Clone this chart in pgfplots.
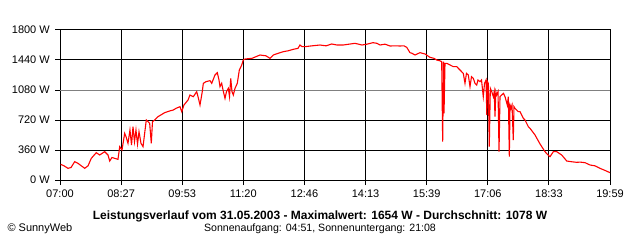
\documentclass[border=0pt]{standalone}
\usepackage{fontspec}
\setmainfont{Liberation Sans}
\usepackage{pgfplots}
\pgfplotsset{compat=1.18}
\usepackage{pgfplotstable}

% minutes after 07:00, power in W
\pgfplotstableread{
t W
1.0 188
5.7 170
11.3 140
15.6 150
20.8 220
25.5 200
35.0 140
39.7 170
44.3 260
51.4 328
56.2 300
63.3 340
68.0 300
70.4 228
73.6 270
77.5 260
82.1 248
84.6 400
87.8 360
91.6 560
93.5 520
96.3 440
99.1 600
101.3 420
103.4 640
105.5 460
107.6 600
109.8 430
111.9 580
114.7 440
117.6 400
122.2 720
124.6 700
127.0 680
129.3 440
131.0 700
134.1 720
138.8 760
148.3 808
155.8 830
160.5 840
164.3 860
170.0 880
172.4 820
175.6 900
181.3 960
184.1 1020
188.8 1000
193.6 1060
195.5 1000
198.3 900
201.5 1060
203.0 1160
206.8 1180
212.5 1192
214.9 1160
219.5 1260
222.8 1288
225.2 1200
226.6 1120
229.0 1160
230.9 1080
233.7 980
235.8 1060
238.4 1100
240.1 1000
241.8 1220
243.6 1060
245.5 1020
247.9 1100
251.1 1160
254.0 1320
257.4 1380
259.6 1440
262.0 1452
271.9 1460
283.3 1500
291.8 1490
297.4 1460
302.1 1500
308.8 1520
316.3 1540
322.9 1550
330.4 1568
337.1 1580
339.9 1620
342.8 1600
347.0 1600
356.9 1610
368.3 1620
376.8 1610
384.8 1632
392.3 1620
401.3 1620
409.3 1630
417.8 1640
427.7 1620
434.8 1630
443.4 1648
449.0 1640
453.2 1620
460.3 1630
467.4 1608
474.5 1610
481.6 1608
487.2 1610
491.1 1592
495.7 1528
498.6 1520
502.8 1500
509.9 1528
517.0 1512
524.0 1472
529.7 1460
533.5 1440
538.2 1430
540.6 1420
542.0 460
543.2 1420
543.9 800
545.3 1400
547.7 1400
552.4 1380
557.1 1360
561.9 1360
566.5 1320
571.2 1280
573.6 1160
575.7 1280
578.3 1260
580.7 1120
582.8 1240
585.4 1220
587.8 1160
590.2 1140
592.0 1200
594.9 1180
597.0 1200
599.5 1000
601.3 1160
603.4 1200
604.5 780
605.5 1180
606.6 1160
608.0 400
609.5 1100
611.5 1060
613.7 1000
615.0 1060
616.1 760
617.3 1060
618.5 1020
620.4 1060
621.8 340
623.2 1000
625.6 1020
628.1 1040
630.3 1000
633.5 900
635.0 1000
636.4 280
637.4 900
638.8 860
640.2 900
642.0 480
643.0 880
644.4 860
649.1 820
651.5 820
656.2 740
658.6 720
663.3 640
665.7 620
672.8 540
679.9 432
686.9 340
691.2 300
694.0 280
698.7 340
703.5 340
710.6 300
717.7 228
723.8 220
731.8 212
736.5 215
743.6 208
750.7 180
757.8 170
764.8 140
771.9 115
779.0 88
}\power

\begin{document}
\begin{tikzpicture}[x=1bp,y=1bp]
\path[use as bounding box] (0,0) rectangle (640,240);
\begin{axis}[
  at={(60bp,60bp)}, anchor=south west,
  width=550bp, height=150bp, scale only axis,
  xmin=0, xmax=779, ymin=0, ymax=1800,
  xtick={0,86.556,173.111,259.667,346.222,432.778,519.333,605.889,692.444,779},
  xticklabels={07:00,08:27,09:53,11:20,12:46,14:13,15:39,17:06,18:33,19:59},
  ytick={0,360,720,1080,1440,1800},
  yticklabels={0 W,360 W,720 W,1080 W,1440 W,1800 W},
  tick align=outside, major tick length=5bp,
  tick style={black, line width=1bp},
  xtick pos=left, ytick pos=left,
  xmajorgrids=true, ymajorgrids=true,
  major grid style={black, line width=1bp},
  axis line style={black, line width=1bp},
  tick label style={font=\fontsize{11bp}{13bp}\selectfont, inner sep=0pt},
  xticklabel style={anchor=north, yshift=-5bp},
  yticklabel style={anchor=east, xshift=-5bp},
  /pgf/number format/assume math mode=true,
  clip=true,
]
\addplot[color={rgb,255:red,128;green,128;blue,128}, line width=1.2bp, forget plot] coordinates {(0,1078) (779,1078)};
\addplot[red, line width=1.1bp, line join=miter] table[x=t, y=W] {\power};
\end{axis}
\node[font=\fontsize{12bp}{14bp}\selectfont\bfseries] at (320,24) {Leistungsverlauf vom 31.05.2003 - Maximalwert: 1654 W - Durchschnitt: 1078 W};
\node[font=\fontsize{10.6bp}{13bp}\selectfont] at (320,11) {Sonnenaufgang: 04:51, Sonnenuntergang: 21:08};
\node[font=\fontsize{11bp}{13bp}\selectfont, anchor=west] at (4,11) {© SunnyWeb};
\end{tikzpicture}
\end{document}
